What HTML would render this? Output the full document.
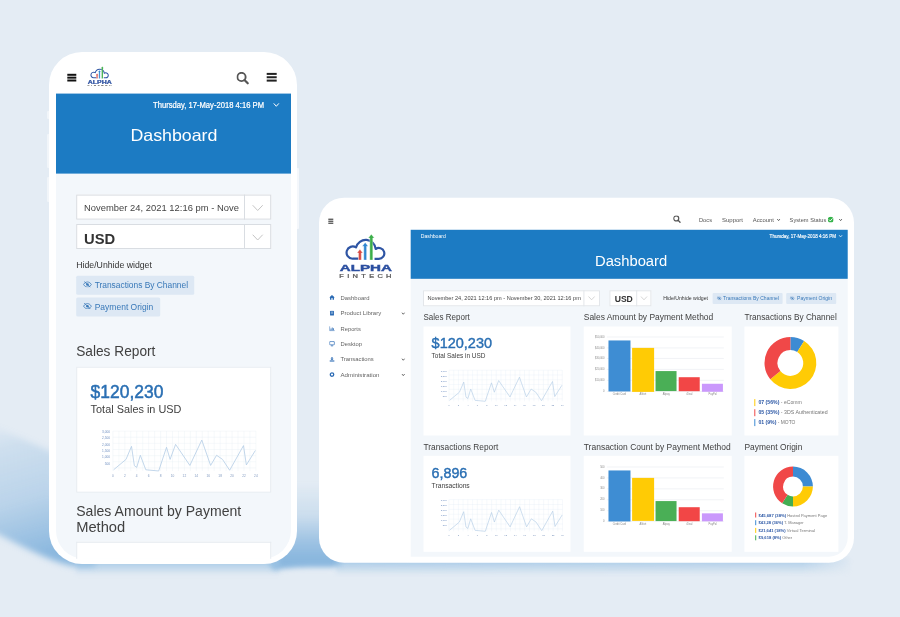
<!DOCTYPE html>
<html><head><meta charset="utf-8"><title>Dashboard</title>
<style>
html,body{margin:0;padding:0;}
body{width:900px;height:617px;overflow:hidden;position:relative;background:#e4ecf4;font-family:"Liberation Sans",sans-serif;}
.r{position:absolute;display:block;left:0;top:0;transform-origin:0 0;}
.t{position:absolute;white-space:pre;line-height:1;left:0;top:0;transform-origin:0 0;}
</style></head><body>
<div id="stage" style="position:absolute;left:0;top:0;width:900px;height:617px;overflow:hidden;will-change:transform;transform:translateZ(0);">
<svg class="r" style="left:0;top:0" width="900" height="617" viewBox="0 0 900 617">
<defs>
<linearGradient id="g1" gradientUnits="userSpaceOnUse" x1="5" y1="428" x2="42" y2="556">
<stop offset="0" stop-color="#8ab7de" stop-opacity="0.08"/>
<stop offset="0.14" stop-color="#8ab7de" stop-opacity="0.24"/>
<stop offset="0.55" stop-color="#8ab7de" stop-opacity="0.46"/>
<stop offset="0.85" stop-color="#8ab7de" stop-opacity="0.82"/>
<stop offset="1" stop-color="#8ab7de" stop-opacity="1"/>
</linearGradient>
<linearGradient id="g2" gradientUnits="userSpaceOnUse" x1="0" y1="482" x2="0" y2="558">
<stop offset="0" stop-color="#8ab7de" stop-opacity="0"/>
<stop offset="0.45" stop-color="#8ab7de" stop-opacity="0.28"/>
<stop offset="0.8" stop-color="#8ab7de" stop-opacity="0.8"/>
<stop offset="1" stop-color="#8ab7de" stop-opacity="1"/>
</linearGradient>
<linearGradient id="g3" x1="0" y1="0" x2="0" y2="1">
<stop offset="0" stop-color="#9cc3e4" stop-opacity="1"/>
<stop offset="1" stop-color="#9cc3e4" stop-opacity="0"/>
</linearGradient>
<linearGradient id="g4" x1="0" y1="0" x2="1" y2="0">
<stop offset="0" stop-color="#fff" stop-opacity="1"/>
<stop offset="0.9" stop-color="#fff" stop-opacity="0.85"/>
<stop offset="1" stop-color="#fff" stop-opacity="0"/>
</linearGradient>
<mask id="m4"><rect x="330" y="550" width="525" height="40" fill="url(#g4)"/></mask>
<filter id="b4" x="-30%" y="-30%" width="160%" height="160%"><feGaussianBlur stdDeviation="3"/></filter>
<filter id="b25" x="-30%" y="-30%" width="160%" height="160%"><feGaussianBlur stdDeviation="2.5"/></filter>
<filter id="b2" x="-30%" y="-30%" width="160%" height="160%"><feGaussianBlur stdDeviation="2"/></filter>
</defs>
<!-- phone cast shadow -->
<path d="M -12 424 L 54 453 L 54 500 L 95 500 L 95 566 L 72 566 C 46 560 20 545 -12 529 Z" fill="url(#g1)" filter="url(#b4)"/>
<!-- tablet cast shadow -->
<path d="M 292 482 L 335 482 L 342 564 L 334 567 C 318 568 300 566 274 570 L 268 563 L 292 540 Z" fill="url(#g2)" filter="url(#b25)"/>
<!-- under shadows -->
<rect x="76" y="559" width="204" height="16" fill="url(#g3)" filter="url(#b2)"/>
<g mask="url(#m4)"><rect x="336" y="558" width="515" height="17" fill="url(#g3)" filter="url(#b2)"/></g>
</svg>
<div class="r" style="width:3.00px;height:8.00px;background:#f1f5f9;transform:translate(47.00px,111.00px);border-radius:1px;"></div>
<div class="r" style="width:3.00px;height:34.00px;background:#f1f5f9;transform:translate(47.00px,134.00px);border-radius:1px;"></div>
<div class="r" style="width:3.00px;height:25.00px;background:#f1f5f9;transform:translate(47.00px,177.00px);border-radius:1px;"></div>
<div class="r" style="width:3.20px;height:61.00px;background:#f4f7fb;transform:translate(296.00px,168.00px);border-radius:1px;"></div>
<div class="r" style="width:248.30px;height:511.90px;background:#fff;transform:translate(49.00px,52.00px);border-radius:33px;"></div>
<div class="r" style="width:235.40px;height:464.60px;background:#f3f7fb;transform:translate(56.00px,93.60px);border-radius:0 0 28px 28px;"></div>
<div class="r" style="width:235.40px;height:79.60px;background:#1c7bc3;transform:translate(56.00px,93.60px);"></div>
<div class="r" style="width:8.50px;height:1.50px;background:#111;transform:translate(67.30px,73.80px);"></div>
<div class="r" style="width:8.50px;height:1.50px;background:#111;transform:translate(67.30px,76.65px);"></div>
<div class="r" style="width:8.50px;height:1.50px;background:#111;transform:translate(67.30px,79.50px);"></div>
<svg class="r" style="transform:translate(85.60px,63.70px);" width="29.90" height="24.84" viewBox="0 0 743 617">
<path d="M 268 351 L 200 351 A 70 70 0 1 1 240 222 A 114.6 114.6 0 0 1 465 240 A 62 62 0 1 1 500 352 L 452 352" fill="none" stroke="#2f55a4" stroke-width="25" stroke-linejoin="round"/>
<g stroke="#fff" stroke-width="4" stroke-linejoin="miter">
<path d="M 285 243 L 318 285 L 301 285 L 301 366 L 269 366 L 269 285 L 252 285 Z" fill="#d94a43"/>
<path d="M 345 165 L 379 209 L 361 209 L 361 366 L 329 366 L 329 209 L 311 209 Z" fill="#2f86d0"/>
<path d="M 415 70 L 450 115 L 432 115 L 432 366 L 398 366 L 398 115 L 380 115 Z" fill="#3cae49"/>
</g>
<text x="55" y="495" font-family="Liberation Sans, sans-serif" font-weight="700" font-size="112" fill="#2b4fa0" stroke="#2b4fa0" stroke-width="5" textLength="595" lengthAdjust="spacingAndGlyphs">ALPHA</text>
<text x="50" y="566" font-family="Liberation Sans, sans-serif" font-size="54" letter-spacing="24" fill="#5a5a5a" stroke="#5a5a5a" stroke-width="2.5" textLength="634" lengthAdjust="spacingAndGlyphs">FINTECH</text>
</svg>
<svg class="r" style="transform:translate(236.50px,72.00px);" width="12.50" height="12.50" viewBox="0 0 12.5 12.5"><circle cx="5.0" cy="5.0" r="4.125" fill="none" stroke="#555" stroke-width="1.9"/><path d="M 7.97 7.97 L 11.25 11.25" stroke="#555" stroke-width="2.1849999999999996" stroke-linecap="round"/></svg>
<div class="r" style="width:10.00px;height:1.60px;background:#222;transform:translate(266.70px,72.90px);"></div>
<div class="r" style="width:10.00px;height:1.60px;background:#222;transform:translate(266.70px,76.25px);"></div>
<div class="r" style="width:10.00px;height:1.60px;background:#222;transform:translate(266.70px,79.60px);"></div>
<div class="t" style="font-size:67.20px;color:#fff;-webkit-text-stroke:1.88px #fff;transform:translate(153.00px,100.89px) scale(0.11358,0.125);">Thursday, 17-May-2018 4:16 PM</div>
<svg class="r" style="transform:translate(273.00px,102.70px);" width="6.60" height="4.60" viewBox="-1 -1 6.6 4.6"><path d="M 0 0 L 2.3 2.6 L 4.6 0" fill="none" stroke="#fff" stroke-width="1" stroke-linecap="round" stroke-linejoin="round"/></svg>
<div class="t" style="font-size:130.40px;color:#fff;transform:translate(130.40px,126.80px) scale(0.13639,0.125);">Dashboard</div>
<div class="r" style="width:194.70px;height:25.10px;background:#fff;transform:translate(76.20px,194.60px);box-sizing:border-box;border:1px solid #d9dde2;"></div>
<div class="r" style="width:1.00px;height:25.10px;background:#d9dde2;transform:translate(244.00px,194.60px);"></div>
<div class="t" style="font-size:77.60px;color:#444;transform:translate(84.00px,202.79px) scale(0.12141,0.125);">November 24, 2021 12:16 pm - Nove</div>
<svg class="r" style="transform:translate(251.95px,204.50px);" width="11.50" height="7.00" viewBox="-1 -1 11.5 7"><path d="M 0 0 L 4.75 5 L 9.5 0" fill="none" stroke="#c4c4c4" stroke-width="1" stroke-linecap="round" stroke-linejoin="round"/></svg>
<div class="r" style="width:194.70px;height:25.20px;background:#fff;transform:translate(76.20px,224.00px);box-sizing:border-box;border:1px solid #d9dde2;"></div>
<div class="r" style="width:1.00px;height:25.20px;background:#d9dde2;transform:translate(244.00px,224.00px);"></div>
<div class="t" style="font-size:120.00px;color:#333;font-weight:700;transform:translate(84.00px,231.00px) scale(0.12314,0.125);">USD</div>
<svg class="r" style="transform:translate(251.95px,234.00px);" width="11.50" height="7.00" viewBox="-1 -1 11.5 7"><path d="M 0 0 L 4.75 5 L 9.5 0" fill="none" stroke="#c4c4c4" stroke-width="1" stroke-linecap="round" stroke-linejoin="round"/></svg>
<div class="t" style="font-size:68.80px;color:#333;transform:translate(76.20px,261.22px) scale(0.12689,0.125);">Hide/Unhide widget</div>
<div class="r" style="width:118.20px;height:18.50px;background:#dde8f4;transform:translate(76.20px,275.70px);border-radius:1.5px;"></div>
<svg class="r" style="transform:translate(83.10px,281.30px);" width="8.70" height="6.40" viewBox="0 0 20 14"><path d="M1 7 C4 2 8 1 10 1 C12 1 16 2 19 7 C16 12 12 13 10 13 C8 13 4 12 1 7 Z" fill="none" stroke="#3878b8" stroke-width="1.8"/><circle cx="10" cy="7" r="3" fill="#3878b8"/><path d="M3 0.5 L17 13.5" stroke="#3878b8" stroke-width="1.8" stroke-linecap="round"/></svg>
<div class="t" style="font-size:73.60px;color:#3878b8;transform:translate(94.70px,280.61px) scale(0.11385,0.125);">Transactions By Channel</div>
<div class="r" style="width:83.80px;height:18.80px;background:#dde8f4;transform:translate(76.20px,297.40px);border-radius:1.5px;"></div>
<svg class="r" style="transform:translate(83.10px,303.00px);" width="8.70" height="6.40" viewBox="0 0 20 14"><path d="M1 7 C4 2 8 1 10 1 C12 1 16 2 19 7 C16 12 12 13 10 13 C8 13 4 12 1 7 Z" fill="none" stroke="#3878b8" stroke-width="1.8"/><circle cx="10" cy="7" r="3" fill="#3878b8"/><path d="M3 0.5 L17 13.5" stroke="#3878b8" stroke-width="1.8" stroke-linecap="round"/></svg>
<div class="t" style="font-size:73.60px;color:#3878b8;transform:translate(94.70px,302.31px) scale(0.11554,0.125);">Payment Origin</div>
<div class="t" style="font-size:116.80px;color:#414141;transform:translate(76.20px,344.24px) scale(0.11731,0.125);">Sales Report</div>
<div class="r" style="width:194.80px;height:125.60px;background:#fff;transform:translate(76.20px,366.70px);box-sizing:border-box;border:0.6px solid #e6ebf1;"></div>
<div class="t" style="font-size:144.00px;color:#2a6fb3;-webkit-text-stroke:4.03px #2a6fb3;transform:translate(90.60px,382.66px) scale(0.12139,0.125);">$120,230</div>
<div class="t" style="font-size:92.00px;color:#414141;transform:translate(90.60px,403.17px) scale(0.11839,0.125);">Total Sales in USD</div>
<svg class="r" style="transform:translate(112.90px,431.10px);overflow:visible;" width="143.00" height="40.90" viewBox="0 0 143.00 40.90"><path d="M 0.00 0 V 39.90" stroke="#e6edf5" stroke-width="0.36"/><path d="M 5.96 0 V 39.90" stroke="#e6edf5" stroke-width="0.36"/><path d="M 11.92 0 V 39.90" stroke="#e6edf5" stroke-width="0.36"/><path d="M 17.88 0 V 39.90" stroke="#e6edf5" stroke-width="0.36"/><path d="M 23.83 0 V 39.90" stroke="#e6edf5" stroke-width="0.36"/><path d="M 29.79 0 V 39.90" stroke="#e6edf5" stroke-width="0.36"/><path d="M 35.75 0 V 39.90" stroke="#e6edf5" stroke-width="0.36"/><path d="M 41.71 0 V 39.90" stroke="#e6edf5" stroke-width="0.36"/><path d="M 47.67 0 V 39.90" stroke="#e6edf5" stroke-width="0.36"/><path d="M 53.62 0 V 39.90" stroke="#e6edf5" stroke-width="0.36"/><path d="M 59.58 0 V 39.90" stroke="#e6edf5" stroke-width="0.36"/><path d="M 65.54 0 V 39.90" stroke="#e6edf5" stroke-width="0.36"/><path d="M 71.50 0 V 39.90" stroke="#e6edf5" stroke-width="0.36"/><path d="M 77.46 0 V 39.90" stroke="#e6edf5" stroke-width="0.36"/><path d="M 83.42 0 V 39.90" stroke="#e6edf5" stroke-width="0.36"/><path d="M 89.38 0 V 39.90" stroke="#e6edf5" stroke-width="0.36"/><path d="M 95.33 0 V 39.90" stroke="#e6edf5" stroke-width="0.36"/><path d="M 101.29 0 V 39.90" stroke="#e6edf5" stroke-width="0.36"/><path d="M 107.25 0 V 39.90" stroke="#e6edf5" stroke-width="0.36"/><path d="M 113.21 0 V 39.90" stroke="#e6edf5" stroke-width="0.36"/><path d="M 119.17 0 V 39.90" stroke="#e6edf5" stroke-width="0.36"/><path d="M 125.12 0 V 39.90" stroke="#e6edf5" stroke-width="0.36"/><path d="M 131.08 0 V 39.90" stroke="#e6edf5" stroke-width="0.36"/><path d="M 137.04 0 V 39.90" stroke="#e6edf5" stroke-width="0.36"/><path d="M 143.00 0 V 39.90" stroke="#e6edf5" stroke-width="0.36"/><path d="M 0 0.00 H 143.00" stroke="#e6edf5" stroke-width="0.36"/><path d="M 0 6.14 H 143.00" stroke="#e6edf5" stroke-width="0.36"/><path d="M 0 12.28 H 143.00" stroke="#e6edf5" stroke-width="0.36"/><path d="M 0 18.42 H 143.00" stroke="#e6edf5" stroke-width="0.36"/><path d="M 0 24.55 H 143.00" stroke="#e6edf5" stroke-width="0.36"/><path d="M 0 30.69 H 143.00" stroke="#e6edf5" stroke-width="0.36"/><path d="M 0 36.83 H 143.00" stroke="#e6edf5" stroke-width="0.36"/><polyline points="0.71,38.69 13.11,28.29 18.59,15.23 21.45,34.58 23.83,36.27 27.41,24.18 32.89,38.69 45.76,39.90 53.62,16.20 57.20,28.29 62.68,13.30 76.98,34.34 88.90,8.95 97.72,34.34 103.67,24.18 109.63,28.29 116.78,39.17 130.61,14.51 133.47,33.85 142.52,19.35" fill="none" stroke="#b3cce6" stroke-width="0.79" stroke-linejoin="round"/></svg>
<div class="t" style="font-size:25.60px;color:#6f8fc0;transform:translate(101.99px,430.49px) scale(0.12500,0.125);">3,000</div>
<div class="t" style="font-size:25.60px;color:#6f8fc0;transform:translate(101.99px,436.83px) scale(0.12500,0.125);">2,500</div>
<div class="t" style="font-size:25.60px;color:#6f8fc0;transform:translate(101.99px,443.16px) scale(0.12500,0.125);">2,000</div>
<div class="t" style="font-size:25.60px;color:#6f8fc0;transform:translate(101.99px,449.49px) scale(0.12500,0.125);">1,500</div>
<div class="t" style="font-size:25.60px;color:#6f8fc0;transform:translate(101.99px,455.83px) scale(0.12500,0.125);">1,000</div>
<div class="t" style="font-size:25.60px;color:#6f8fc0;transform:translate(104.66px,462.16px) scale(0.12500,0.125);">500</div>
<div class="t" style="font-size:25.60px;color:#7f98bf;transform:translate(112.01px,474.34px) scale(0.12500,0.125);">0</div>
<div class="t" style="font-size:25.60px;color:#7f98bf;transform:translate(123.93px,474.34px) scale(0.12500,0.125);">2</div>
<div class="t" style="font-size:25.60px;color:#7f98bf;transform:translate(135.84px,474.34px) scale(0.12500,0.125);">4</div>
<div class="t" style="font-size:25.60px;color:#7f98bf;transform:translate(147.76px,474.34px) scale(0.12500,0.125);">6</div>
<div class="t" style="font-size:25.60px;color:#7f98bf;transform:translate(159.68px,474.34px) scale(0.12500,0.125);">8</div>
<div class="t" style="font-size:25.60px;color:#7f98bf;transform:translate(170.70px,474.34px) scale(0.12500,0.125);">10</div>
<div class="t" style="font-size:25.60px;color:#7f98bf;transform:translate(182.62px,474.34px) scale(0.12500,0.125);">12</div>
<div class="t" style="font-size:25.60px;color:#7f98bf;transform:translate(194.54px,474.34px) scale(0.12500,0.125);">14</div>
<div class="t" style="font-size:25.60px;color:#7f98bf;transform:translate(206.45px,474.34px) scale(0.12500,0.125);">16</div>
<div class="t" style="font-size:25.60px;color:#7f98bf;transform:translate(218.37px,474.34px) scale(0.12500,0.125);">18</div>
<div class="t" style="font-size:25.60px;color:#7f98bf;transform:translate(230.29px,474.34px) scale(0.12500,0.125);">20</div>
<div class="t" style="font-size:25.60px;color:#7f98bf;transform:translate(242.20px,474.34px) scale(0.12500,0.125);">22</div>
<div class="t" style="font-size:25.60px;color:#7f98bf;transform:translate(254.12px,474.34px) scale(0.12500,0.125);">24</div>
<div class="t" style="font-size:116.80px;color:#414141;transform:translate(76.20px,503.44px) scale(0.12045,0.125);">Sales Amount by Payment</div>
<div class="t" style="font-size:116.80px;color:#414141;transform:translate(76.20px,519.44px) scale(0.12579,0.125);">Method</div>
<div class="r" style="width:194.80px;height:17.00px;background:#fff;transform:translate(76.20px,541.80px);box-sizing:border-box;border:0.6px solid #e6ebf1;border-bottom:none;"></div>
<div class="r" style="width:535.00px;height:365.00px;background:#fff;transform:translate(319.00px,197.70px);border-radius:25px;"></div>
<div class="r" style="width:437.30px;height:326.80px;background:#f3f7fb;transform:translate(410.70px,229.80px);border-radius:0 0 19px 0;"></div>
<div class="r" style="width:437.30px;height:48.80px;background:#1c7bc3;transform:translate(410.70px,229.80px);"></div>
<div class="r" style="width:5.40px;height:1.10px;background:#222;transform:translate(328.30px,218.70px);"></div>
<div class="r" style="width:5.40px;height:1.10px;background:#222;transform:translate(328.30px,220.70px);"></div>
<div class="r" style="width:5.40px;height:1.10px;background:#222;transform:translate(328.30px,222.70px);"></div>
<svg class="r" style="transform:translate(335.00px,228.00px);" width="65.00" height="54.00" viewBox="0 0 743 617">
<path d="M 268 351 L 200 351 A 70 70 0 1 1 240 222 A 114.6 114.6 0 0 1 465 240 A 62 62 0 1 1 500 352 L 452 352" fill="none" stroke="#2f55a4" stroke-width="25" stroke-linejoin="round"/>
<g stroke="#fff" stroke-width="4" stroke-linejoin="miter">
<path d="M 285 243 L 318 285 L 301 285 L 301 366 L 269 366 L 269 285 L 252 285 Z" fill="#d94a43"/>
<path d="M 345 165 L 379 209 L 361 209 L 361 366 L 329 366 L 329 209 L 311 209 Z" fill="#2f86d0"/>
<path d="M 415 70 L 450 115 L 432 115 L 432 366 L 398 366 L 398 115 L 380 115 Z" fill="#3cae49"/>
</g>
<text x="55" y="495" font-family="Liberation Sans, sans-serif" font-weight="700" font-size="112" fill="#2b4fa0" stroke="#2b4fa0" stroke-width="5" textLength="595" lengthAdjust="spacingAndGlyphs">ALPHA</text>
<text x="50" y="566" font-family="Liberation Sans, sans-serif" font-size="54" letter-spacing="24" fill="#5a5a5a" stroke="#5a5a5a" stroke-width="2.5" textLength="634" lengthAdjust="spacingAndGlyphs">FINTECH</text>
</svg>
<svg class="r" style="transform:translate(673.20px,215.40px);" width="7.60" height="7.60" viewBox="0 0 7.6 7.6"><circle cx="3.04" cy="3.04" r="2.508" fill="none" stroke="#555" stroke-width="1.2"/><path d="M 4.84576 4.84576 L 6.84 6.84" stroke="#555" stroke-width="1.38" stroke-linecap="round"/></svg>
<div class="t" style="font-size:48.80px;color:#555;transform:translate(699.00px,216.64px) scale(0.11693,0.125);">Docs</div>
<div class="t" style="font-size:48.80px;color:#555;transform:translate(722.00px,216.64px) scale(0.12287,0.125);">Support</div>
<div class="t" style="font-size:48.80px;color:#555;transform:translate(752.70px,216.64px) scale(0.12080,0.125);">Account</div>
<svg class="r" style="transform:translate(776.50px,218.35px);" width="4.20" height="3.30" viewBox="-1 -1 4.2 3.3"><path d="M 0 0 L 1.1 1.3 L 2.2 0" fill="none" stroke="#555" stroke-width="0.9" stroke-linecap="round" stroke-linejoin="round"/></svg>
<div class="t" style="font-size:48.80px;color:#555;transform:translate(789.60px,216.64px) scale(0.11666,0.125);">System Status</div>
<svg class="r" style="transform:translate(827.60px,216.60px);" width="6.20" height="6.20" viewBox="0 0 10 10"><circle cx="5" cy="5" r="4.6" fill="#35b34a"/><path d="M2.6 5.2 L4.4 7 L7.5 3.4" fill="none" stroke="#fff" stroke-width="1.5" stroke-linecap="round" stroke-linejoin="round"/></svg>
<svg class="r" style="transform:translate(838.50px,218.35px);" width="4.20" height="3.30" viewBox="-1 -1 4.2 3.3"><path d="M 0 0 L 1.1 1.3 L 2.2 0" fill="none" stroke="#555" stroke-width="0.9" stroke-linecap="round" stroke-linejoin="round"/></svg>
<div class="t" style="font-size:44.80px;color:#fff;transform:translate(420.80px,233.56px) scale(0.11408,0.125);">Dashboard</div>
<div class="t" style="font-size:40.80px;color:#fff;-webkit-text-stroke:1.14px #fff;transform:translate(769.60px,233.68px) scale(0.11191,0.125);">Thursday, 17-May-2018 4:16 PM</div>
<svg class="r" style="transform:translate(838.30px,234.45px);" width="4.60" height="3.50" viewBox="-1 -1 4.6 3.5"><path d="M 0 0 L 1.3 1.5 L 2.6 0" fill="none" stroke="#fff" stroke-width="0.7" stroke-linecap="round" stroke-linejoin="round"/></svg>
<div class="t" style="font-size:112.00px;color:#fff;transform:translate(595.00px,253.95px) scale(0.13178,0.125);">Dashboard</div>
<div class="r" style="width:176.70px;height:15.60px;background:#fff;transform:translate(423.00px,290.30px);box-sizing:border-box;border:0.7px solid #e3e6ea;"></div>
<div class="r" style="width:0.70px;height:15.60px;background:#e3e6ea;transform:translate(583.40px,290.30px);"></div>
<div class="t" style="font-size:44.80px;color:#444;transform:translate(427.50px,295.66px) scale(0.12513,0.125);">November 24, 2021 12:16 pm - November 30, 2021 12:16 pm</div>
<svg class="r" style="transform:translate(587.80px,295.80px);" width="7.60" height="5.00" viewBox="-1 -1 7.6 5"><path d="M 0 0 L 2.8 3 L 5.6 0" fill="none" stroke="#c4c4c4" stroke-width="0.7" stroke-linecap="round" stroke-linejoin="round"/></svg>
<div class="r" style="width:42.30px;height:15.60px;background:#fff;transform:translate(609.40px,290.30px);box-sizing:border-box;border:0.7px solid #e3e6ea;"></div>
<div class="r" style="width:0.70px;height:15.60px;background:#e3e6ea;transform:translate(636.20px,290.30px);"></div>
<div class="t" style="font-size:68.80px;color:#333;font-weight:700;transform:translate(614.70px,294.92px) scale(0.12460,0.125);">USD</div>
<svg class="r" style="transform:translate(640.20px,295.80px);" width="7.60" height="5.00" viewBox="-1 -1 7.6 5"><path d="M 0 0 L 2.8 3 L 5.6 0" fill="none" stroke="#c4c4c4" stroke-width="0.7" stroke-linecap="round" stroke-linejoin="round"/></svg>
<div class="t" style="font-size:40.80px;color:#333;transform:translate(663.20px,295.88px) scale(0.12663,0.125);">Hide/Unhide widget</div>
<div class="r" style="width:69.90px;height:10.80px;background:#dde8f4;transform:translate(712.60px,292.90px);border-radius:1px;"></div>
<svg class="r" style="transform:translate(716.80px,296.40px);" width="4.80" height="3.60" viewBox="0 0 20 14"><path d="M1 7 C4 2 8 1 10 1 C12 1 16 2 19 7 C16 12 12 13 10 13 C8 13 4 12 1 7 Z" fill="none" stroke="#3878b8" stroke-width="1.8"/><circle cx="10" cy="7" r="3" fill="#3878b8"/><path d="M3 0.5 L17 13.5" stroke="#3878b8" stroke-width="1.8" stroke-linecap="round"/></svg>
<div class="t" style="font-size:42.40px;color:#3878b8;transform:translate(723.10px,295.71px) scale(0.11819,0.125);">Transactions By Channel</div>
<div class="r" style="width:49.80px;height:10.80px;background:#dde8f4;transform:translate(786.20px,292.90px);border-radius:1px;"></div>
<svg class="r" style="transform:translate(789.80px,296.40px);" width="4.80" height="3.60" viewBox="0 0 20 14"><path d="M1 7 C4 2 8 1 10 1 C12 1 16 2 19 7 C16 12 12 13 10 13 C8 13 4 12 1 7 Z" fill="none" stroke="#3878b8" stroke-width="1.8"/><circle cx="10" cy="7" r="3" fill="#3878b8"/><path d="M3 0.5 L17 13.5" stroke="#3878b8" stroke-width="1.8" stroke-linecap="round"/></svg>
<div class="t" style="font-size:42.40px;color:#3878b8;transform:translate(797.00px,295.71px) scale(0.11979,0.125);">Payment Origin</div>
<div class="t" style="font-size:49.60px;color:#646464;transform:translate(340.50px,294.45px) scale(0.11952,0.125);">Dashboard</div>
<svg class="r" style="transform:translate(329.20px,294.60px);" width="5.60" height="5.60" viewBox="0 0 10 10"><path d="M5 0.8 L10 5 L8.6 5 L8.6 9 L6 9 L6 6.2 L4 6.2 L4 9 L1.4 9 L1.4 5 L0 5 Z" fill="#2d6cb5"/></svg>
<div class="t" style="font-size:49.60px;color:#646464;transform:translate(340.50px,310.25px) scale(0.12102,0.125);">Product Library</div>
<svg class="r" style="transform:translate(329.20px,310.40px);" width="5.60" height="5.60" viewBox="0 0 10 10"><rect x="1.5" y="0.8" width="7" height="8.4" rx="1" fill="#2d6cb5"/><path d="M3 3 H7 M3 5 H7" stroke="#fff" stroke-width="0.8"/></svg>
<svg class="r" style="transform:translate(401.20px,311.95px);" width="4.20" height="3.30" viewBox="-1 -1 4.2 3.3"><path d="M 0 0 L 1.1 1.3 L 2.2 0" fill="none" stroke="#555" stroke-width="0.9" stroke-linecap="round" stroke-linejoin="round"/></svg>
<div class="t" style="font-size:49.60px;color:#646464;transform:translate(340.50px,325.65px) scale(0.11689,0.125);">Reports</div>
<svg class="r" style="transform:translate(329.20px,325.80px);" width="5.60" height="5.60" viewBox="0 0 10 10"><path d="M0.8 1 V8.6 H9.6" fill="none" stroke="#2d6cb5" stroke-width="1.1"/><path d="M2.5 7.6 V5 H3.9 V7.6 Z M4.7 7.6 V3 H6.1 V7.6 Z M6.9 7.6 V4.4 H8.3 V7.6 Z" fill="#2d6cb5"/></svg>
<div class="t" style="font-size:49.60px;color:#646464;transform:translate(340.50px,340.75px) scale(0.11817,0.125);">Desktop</div>
<svg class="r" style="transform:translate(329.20px,340.90px);" width="5.60" height="5.60" viewBox="0 0 10 10"><rect x="0.8" y="1.2" width="8.4" height="5.8" rx="0.6" fill="none" stroke="#2d6cb5" stroke-width="1.2"/><path d="M3 9 H7 M5 7 V9" stroke="#2d6cb5" stroke-width="1.1"/></svg>
<div class="t" style="font-size:49.60px;color:#646464;transform:translate(340.50px,356.25px) scale(0.11805,0.125);">Transactions</div>
<svg class="r" style="transform:translate(329.20px,356.40px);" width="5.60" height="5.60" viewBox="0 0 10 10"><path d="M4 1 H6 V4 H8 L5 7 L2 4 H4 Z" fill="#2d6cb5"/><rect x="0.8" y="7.2" width="8.4" height="2" fill="#2d6cb5"/></svg>
<svg class="r" style="transform:translate(401.20px,357.95px);" width="4.20" height="3.30" viewBox="-1 -1 4.2 3.3"><path d="M 0 0 L 1.1 1.3 L 2.2 0" fill="none" stroke="#555" stroke-width="0.9" stroke-linecap="round" stroke-linejoin="round"/></svg>
<div class="t" style="font-size:49.60px;color:#646464;transform:translate(340.50px,371.65px) scale(0.12411,0.125);">Administration</div>
<svg class="r" style="transform:translate(329.20px,371.80px);" width="5.60" height="5.60" viewBox="0 0 10 10"><circle cx="5" cy="5" r="3.1" fill="none" stroke="#2d6cb5" stroke-width="2.4"/></svg>
<svg class="r" style="transform:translate(401.20px,373.35px);" width="4.20" height="3.30" viewBox="-1 -1 4.2 3.3"><path d="M 0 0 L 1.1 1.3 L 2.2 0" fill="none" stroke="#555" stroke-width="0.9" stroke-linecap="round" stroke-linejoin="round"/></svg>
<div class="t" style="font-size:67.20px;color:#414141;transform:translate(423.50px,312.49px) scale(0.11919,0.125);">Sales Report</div>
<div class="t" style="font-size:67.20px;color:#414141;transform:translate(583.75px,312.49px) scale(0.12562,0.125);">Sales Amount by Payment Method</div>
<div class="t" style="font-size:67.20px;color:#414141;transform:translate(744.40px,312.49px) scale(0.12349,0.125);">Transactions By Channel</div>
<div class="t" style="font-size:67.20px;color:#414141;transform:translate(423.50px,442.39px) scale(0.12414,0.125);">Transactions Report</div>
<div class="t" style="font-size:67.20px;color:#414141;transform:translate(583.75px,442.39px) scale(0.12642,0.125);">Transaction Count by Payment Method</div>
<div class="t" style="font-size:67.20px;color:#414141;transform:translate(744.40px,442.39px) scale(0.12525,0.125);">Payment Origin</div>
<div class="r" style="width:147.40px;height:108.50px;background:#fff;transform:translate(423.50px,326.50px);"></div>
<div class="r" style="width:148.30px;height:108.50px;background:#fff;transform:translate(583.75px,326.50px);"></div>
<div class="r" style="width:94.40px;height:108.50px;background:#fff;transform:translate(744.40px,326.50px);"></div>
<div class="r" style="width:147.40px;height:96.30px;background:#fff;transform:translate(423.50px,455.80px);"></div>
<div class="r" style="width:148.30px;height:96.30px;background:#fff;transform:translate(583.75px,455.80px);"></div>
<div class="r" style="width:94.40px;height:96.30px;background:#fff;transform:translate(744.40px,455.80px);"></div>
<div class="t" style="font-size:116.80px;color:#2a6fb3;-webkit-text-stroke:3.27px #2a6fb3;transform:translate(431.60px,335.64px) scale(0.12400,0.125);">$120,230</div>
<div class="t" style="font-size:56.00px;color:#414141;transform:translate(431.60px,352.37px) scale(0.11545,0.125);">Total Sales in USD</div>
<svg class="r" style="transform:translate(449.00px,370.20px);overflow:visible;" width="113.30" height="32.10" viewBox="0 0 113.30 32.10"><path d="M 0.00 0 V 31.10" stroke="#e6edf5" stroke-width="0.35"/><path d="M 4.72 0 V 31.10" stroke="#e6edf5" stroke-width="0.35"/><path d="M 9.44 0 V 31.10" stroke="#e6edf5" stroke-width="0.35"/><path d="M 14.16 0 V 31.10" stroke="#e6edf5" stroke-width="0.35"/><path d="M 18.88 0 V 31.10" stroke="#e6edf5" stroke-width="0.35"/><path d="M 23.60 0 V 31.10" stroke="#e6edf5" stroke-width="0.35"/><path d="M 28.32 0 V 31.10" stroke="#e6edf5" stroke-width="0.35"/><path d="M 33.05 0 V 31.10" stroke="#e6edf5" stroke-width="0.35"/><path d="M 37.77 0 V 31.10" stroke="#e6edf5" stroke-width="0.35"/><path d="M 42.49 0 V 31.10" stroke="#e6edf5" stroke-width="0.35"/><path d="M 47.21 0 V 31.10" stroke="#e6edf5" stroke-width="0.35"/><path d="M 51.93 0 V 31.10" stroke="#e6edf5" stroke-width="0.35"/><path d="M 56.65 0 V 31.10" stroke="#e6edf5" stroke-width="0.35"/><path d="M 61.37 0 V 31.10" stroke="#e6edf5" stroke-width="0.35"/><path d="M 66.09 0 V 31.10" stroke="#e6edf5" stroke-width="0.35"/><path d="M 70.81 0 V 31.10" stroke="#e6edf5" stroke-width="0.35"/><path d="M 75.53 0 V 31.10" stroke="#e6edf5" stroke-width="0.35"/><path d="M 80.25 0 V 31.10" stroke="#e6edf5" stroke-width="0.35"/><path d="M 84.97 0 V 31.10" stroke="#e6edf5" stroke-width="0.35"/><path d="M 89.70 0 V 31.10" stroke="#e6edf5" stroke-width="0.35"/><path d="M 94.42 0 V 31.10" stroke="#e6edf5" stroke-width="0.35"/><path d="M 99.14 0 V 31.10" stroke="#e6edf5" stroke-width="0.35"/><path d="M 103.86 0 V 31.10" stroke="#e6edf5" stroke-width="0.35"/><path d="M 108.58 0 V 31.10" stroke="#e6edf5" stroke-width="0.35"/><path d="M 113.30 0 V 31.10" stroke="#e6edf5" stroke-width="0.35"/><path d="M 0 0.00 H 113.30" stroke="#e6edf5" stroke-width="0.35"/><path d="M 0 4.78 H 113.30" stroke="#e6edf5" stroke-width="0.35"/><path d="M 0 9.57 H 113.30" stroke="#e6edf5" stroke-width="0.35"/><path d="M 0 14.35 H 113.30" stroke="#e6edf5" stroke-width="0.35"/><path d="M 0 19.14 H 113.30" stroke="#e6edf5" stroke-width="0.35"/><path d="M 0 23.92 H 113.30" stroke="#e6edf5" stroke-width="0.35"/><path d="M 0 28.71 H 113.30" stroke="#e6edf5" stroke-width="0.35"/><polyline points="0.57,30.16 10.39,22.05 14.73,11.87 16.99,26.95 18.88,28.27 21.72,18.85 26.06,30.16 36.26,31.10 42.49,12.63 45.32,22.05 49.66,10.37 60.99,26.76 70.43,6.97 77.42,26.76 82.14,18.85 86.86,22.05 92.53,30.53 103.48,11.31 105.75,26.39 112.92,15.08" fill="none" stroke="#b3cce6" stroke-width="0.63" stroke-linejoin="round"/></svg>
<div class="t" style="font-size:20.00px;color:#6f8fc0;transform:translate(440.64px,369.72px) scale(0.12500,0.125);">3,000</div>
<div class="t" style="font-size:20.00px;color:#6f8fc0;transform:translate(440.64px,374.66px) scale(0.12500,0.125);">2,500</div>
<div class="t" style="font-size:20.00px;color:#6f8fc0;transform:translate(440.64px,379.60px) scale(0.12500,0.125);">2,000</div>
<div class="t" style="font-size:20.00px;color:#6f8fc0;transform:translate(440.64px,384.53px) scale(0.12500,0.125);">1,500</div>
<div class="t" style="font-size:20.00px;color:#6f8fc0;transform:translate(440.64px,389.47px) scale(0.12500,0.125);">1,000</div>
<div class="t" style="font-size:20.00px;color:#6f8fc0;transform:translate(442.73px,394.41px) scale(0.12500,0.125);">500</div>
<div class="t" style="font-size:20.00px;color:#7f98bf;transform:translate(448.30px,403.48px) scale(0.12500,0.125);">0</div>
<div class="t" style="font-size:20.00px;color:#7f98bf;transform:translate(457.75px,403.48px) scale(0.12500,0.125);">2</div>
<div class="t" style="font-size:20.00px;color:#7f98bf;transform:translate(467.19px,403.48px) scale(0.12500,0.125);">4</div>
<div class="t" style="font-size:20.00px;color:#7f98bf;transform:translate(476.63px,403.48px) scale(0.12500,0.125);">6</div>
<div class="t" style="font-size:20.00px;color:#7f98bf;transform:translate(486.07px,403.48px) scale(0.12500,0.125);">8</div>
<div class="t" style="font-size:20.00px;color:#7f98bf;transform:translate(494.82px,403.48px) scale(0.12500,0.125);">10</div>
<div class="t" style="font-size:20.00px;color:#7f98bf;transform:translate(504.26px,403.48px) scale(0.12500,0.125);">12</div>
<div class="t" style="font-size:20.00px;color:#7f98bf;transform:translate(513.70px,403.48px) scale(0.12500,0.125);">14</div>
<div class="t" style="font-size:20.00px;color:#7f98bf;transform:translate(523.14px,403.48px) scale(0.12500,0.125);">16</div>
<div class="t" style="font-size:20.00px;color:#7f98bf;transform:translate(532.58px,403.48px) scale(0.12500,0.125);">18</div>
<div class="t" style="font-size:20.00px;color:#7f98bf;transform:translate(542.03px,403.48px) scale(0.12500,0.125);">20</div>
<div class="t" style="font-size:20.00px;color:#7f98bf;transform:translate(551.47px,403.48px) scale(0.12500,0.125);">22</div>
<div class="t" style="font-size:20.00px;color:#7f98bf;transform:translate(560.91px,403.48px) scale(0.12500,0.125);">24</div>
<div class="t" style="font-size:116.80px;color:#2a6fb3;-webkit-text-stroke:3.27px #2a6fb3;transform:translate(431.60px,465.44px) scale(0.12215,0.125);">6,896</div>
<div class="t" style="font-size:56.00px;color:#414141;transform:translate(431.60px,482.07px) scale(0.11963,0.125);">Transactions</div>
<svg class="r" style="transform:translate(448.90px,499.60px);overflow:visible;" width="113.70" height="32.70" viewBox="0 0 113.70 32.70"><path d="M 0.00 0 V 31.70" stroke="#e6edf5" stroke-width="0.35"/><path d="M 4.74 0 V 31.70" stroke="#e6edf5" stroke-width="0.35"/><path d="M 9.48 0 V 31.70" stroke="#e6edf5" stroke-width="0.35"/><path d="M 14.21 0 V 31.70" stroke="#e6edf5" stroke-width="0.35"/><path d="M 18.95 0 V 31.70" stroke="#e6edf5" stroke-width="0.35"/><path d="M 23.69 0 V 31.70" stroke="#e6edf5" stroke-width="0.35"/><path d="M 28.43 0 V 31.70" stroke="#e6edf5" stroke-width="0.35"/><path d="M 33.16 0 V 31.70" stroke="#e6edf5" stroke-width="0.35"/><path d="M 37.90 0 V 31.70" stroke="#e6edf5" stroke-width="0.35"/><path d="M 42.64 0 V 31.70" stroke="#e6edf5" stroke-width="0.35"/><path d="M 47.38 0 V 31.70" stroke="#e6edf5" stroke-width="0.35"/><path d="M 52.11 0 V 31.70" stroke="#e6edf5" stroke-width="0.35"/><path d="M 56.85 0 V 31.70" stroke="#e6edf5" stroke-width="0.35"/><path d="M 61.59 0 V 31.70" stroke="#e6edf5" stroke-width="0.35"/><path d="M 66.33 0 V 31.70" stroke="#e6edf5" stroke-width="0.35"/><path d="M 71.06 0 V 31.70" stroke="#e6edf5" stroke-width="0.35"/><path d="M 75.80 0 V 31.70" stroke="#e6edf5" stroke-width="0.35"/><path d="M 80.54 0 V 31.70" stroke="#e6edf5" stroke-width="0.35"/><path d="M 85.28 0 V 31.70" stroke="#e6edf5" stroke-width="0.35"/><path d="M 90.01 0 V 31.70" stroke="#e6edf5" stroke-width="0.35"/><path d="M 94.75 0 V 31.70" stroke="#e6edf5" stroke-width="0.35"/><path d="M 99.49 0 V 31.70" stroke="#e6edf5" stroke-width="0.35"/><path d="M 104.23 0 V 31.70" stroke="#e6edf5" stroke-width="0.35"/><path d="M 108.96 0 V 31.70" stroke="#e6edf5" stroke-width="0.35"/><path d="M 113.70 0 V 31.70" stroke="#e6edf5" stroke-width="0.35"/><path d="M 0 0.00 H 113.70" stroke="#e6edf5" stroke-width="0.35"/><path d="M 0 4.88 H 113.70" stroke="#e6edf5" stroke-width="0.35"/><path d="M 0 9.75 H 113.70" stroke="#e6edf5" stroke-width="0.35"/><path d="M 0 14.63 H 113.70" stroke="#e6edf5" stroke-width="0.35"/><path d="M 0 19.51 H 113.70" stroke="#e6edf5" stroke-width="0.35"/><path d="M 0 24.38 H 113.70" stroke="#e6edf5" stroke-width="0.35"/><path d="M 0 29.26 H 113.70" stroke="#e6edf5" stroke-width="0.35"/><polyline points="0.57,30.74 10.42,22.48 14.78,12.10 17.06,27.47 18.95,28.82 21.79,19.21 26.15,30.74 36.38,31.70 42.64,12.87 45.48,22.48 49.84,10.57 61.21,27.28 70.68,7.11 77.70,27.28 82.43,19.21 87.17,22.48 92.86,31.12 103.85,11.53 106.12,26.90 113.32,15.37" fill="none" stroke="#b3cce6" stroke-width="0.63" stroke-linejoin="round"/></svg>
<div class="t" style="font-size:20.00px;color:#6f8fc0;transform:translate(440.64px,499.14px) scale(0.12500,0.125);">3,000</div>
<div class="t" style="font-size:20.00px;color:#6f8fc0;transform:translate(440.64px,504.17px) scale(0.12500,0.125);">2,500</div>
<div class="t" style="font-size:20.00px;color:#6f8fc0;transform:translate(440.64px,509.20px) scale(0.12500,0.125);">2,000</div>
<div class="t" style="font-size:20.00px;color:#6f8fc0;transform:translate(440.64px,514.23px) scale(0.12500,0.125);">1,500</div>
<div class="t" style="font-size:20.00px;color:#6f8fc0;transform:translate(440.64px,519.27px) scale(0.12500,0.125);">1,000</div>
<div class="t" style="font-size:20.00px;color:#6f8fc0;transform:translate(442.73px,524.30px) scale(0.12500,0.125);">500</div>
<div class="t" style="font-size:20.00px;color:#7f98bf;transform:translate(448.20px,534.18px) scale(0.12500,0.125);">0</div>
<div class="t" style="font-size:20.00px;color:#7f98bf;transform:translate(457.68px,534.18px) scale(0.12500,0.125);">2</div>
<div class="t" style="font-size:20.00px;color:#7f98bf;transform:translate(467.15px,534.18px) scale(0.12500,0.125);">4</div>
<div class="t" style="font-size:20.00px;color:#7f98bf;transform:translate(476.63px,534.18px) scale(0.12500,0.125);">6</div>
<div class="t" style="font-size:20.00px;color:#7f98bf;transform:translate(486.10px,534.18px) scale(0.12500,0.125);">8</div>
<div class="t" style="font-size:20.00px;color:#7f98bf;transform:translate(494.88px,534.18px) scale(0.12500,0.125);">10</div>
<div class="t" style="font-size:20.00px;color:#7f98bf;transform:translate(504.36px,534.18px) scale(0.12500,0.125);">12</div>
<div class="t" style="font-size:20.00px;color:#7f98bf;transform:translate(513.83px,534.18px) scale(0.12500,0.125);">14</div>
<div class="t" style="font-size:20.00px;color:#7f98bf;transform:translate(523.31px,534.18px) scale(0.12500,0.125);">16</div>
<div class="t" style="font-size:20.00px;color:#7f98bf;transform:translate(532.78px,534.18px) scale(0.12500,0.125);">18</div>
<div class="t" style="font-size:20.00px;color:#7f98bf;transform:translate(542.26px,534.18px) scale(0.12500,0.125);">20</div>
<div class="t" style="font-size:20.00px;color:#7f98bf;transform:translate(551.73px,534.18px) scale(0.12500,0.125);">22</div>
<div class="t" style="font-size:20.00px;color:#7f98bf;transform:translate(561.21px,534.18px) scale(0.12500,0.125);">24</div>
<div class="r" style="width:117.41px;height:0.50px;background:#f1f3f6;transform:translate(606.82px,336.48px);"></div>
<div class="t" style="font-size:20.80px;color:#888;transform:translate(595.10px,335.46px) scale(0.12500,0.125);">$50,000</div>
<div class="r" style="width:117.41px;height:0.50px;background:#f1f3f6;transform:translate(606.82px,347.42px);"></div>
<div class="t" style="font-size:20.80px;color:#888;transform:translate(595.10px,346.40px) scale(0.12500,0.125);">$40,000</div>
<div class="r" style="width:117.41px;height:0.50px;background:#f1f3f6;transform:translate(606.82px,357.92px);"></div>
<div class="t" style="font-size:20.80px;color:#888;transform:translate(595.10px,356.91px) scale(0.12500,0.125);">$30,000</div>
<div class="r" style="width:117.41px;height:0.50px;background:#f1f3f6;transform:translate(606.82px,368.86px);"></div>
<div class="t" style="font-size:20.80px;color:#888;transform:translate(595.10px,367.85px) scale(0.12500,0.125);">$20,000</div>
<div class="r" style="width:117.41px;height:0.50px;background:#f1f3f6;transform:translate(606.82px,379.80px);"></div>
<div class="t" style="font-size:20.80px;color:#888;transform:translate(595.10px,378.79px) scale(0.12500,0.125);">$10,000</div>
<div class="r" style="width:117.41px;height:0.50px;background:#f1f3f6;transform:translate(606.82px,390.96px);"></div>
<div class="t" style="font-size:20.80px;color:#888;transform:translate(603.05px,389.95px) scale(0.12500,0.125);">0</div>
<div class="r" style="width:21.66px;height:50.98px;background:#3e8dd3;transform:translate(608.48px,340.45px);"></div>
<div class="t" style="font-size:20.80px;color:#888;transform:translate(612.66px,392.79px) scale(0.12500,0.125);">Credit Card</div>
<div class="r" style="width:21.66px;height:43.54px;background:#ffcb05;transform:translate(632.11px,347.89px);"></div>
<div class="t" style="font-size:20.80px;color:#888;transform:translate(639.62px,392.79px) scale(0.12500,0.125);">Alifort</div>
<div class="r" style="width:21.44px;height:20.35px;background:#4aaf56;transform:translate(655.53px,371.08px);"></div>
<div class="t" style="font-size:20.80px;color:#888;transform:translate(662.71px,392.79px) scale(0.12500,0.125);">Alipay</div>
<div class="r" style="width:21.44px;height:14.22px;background:#f24646;transform:translate(678.72px,377.21px);"></div>
<div class="t" style="font-size:20.80px;color:#888;transform:translate(686.48px,392.79px) scale(0.12500,0.125);">iDeal</div>
<div class="r" style="width:21.44px;height:7.66px;background:#ca98fc;transform:translate(701.91px,383.77px);"></div>
<div class="t" style="font-size:20.80px;color:#888;transform:translate(708.52px,392.79px) scale(0.12500,0.125);">PayPal</div>
<div class="r" style="width:117.41px;height:0.50px;background:#f1f3f6;transform:translate(606.82px,466.48px);"></div>
<div class="t" style="font-size:20.80px;color:#888;transform:translate(600.16px,465.46px) scale(0.12500,0.125);">500</div>
<div class="r" style="width:117.41px;height:0.50px;background:#f1f3f6;transform:translate(606.82px,477.42px);"></div>
<div class="t" style="font-size:20.80px;color:#888;transform:translate(600.16px,476.40px) scale(0.12500,0.125);">400</div>
<div class="r" style="width:117.41px;height:0.50px;background:#f1f3f6;transform:translate(606.82px,488.36px);"></div>
<div class="t" style="font-size:20.80px;color:#888;transform:translate(600.16px,487.35px) scale(0.12500,0.125);">300</div>
<div class="r" style="width:117.41px;height:0.50px;background:#f1f3f6;transform:translate(606.82px,499.30px);"></div>
<div class="t" style="font-size:20.80px;color:#888;transform:translate(600.16px,498.29px) scale(0.12500,0.125);">200</div>
<div class="r" style="width:117.41px;height:0.50px;background:#f1f3f6;transform:translate(606.82px,510.24px);"></div>
<div class="t" style="font-size:20.80px;color:#888;transform:translate(600.16px,509.23px) scale(0.12500,0.125);">100</div>
<div class="r" style="width:117.41px;height:0.50px;background:#f1f3f6;transform:translate(606.82px,520.75px);"></div>
<div class="t" style="font-size:20.80px;color:#888;transform:translate(603.05px,519.73px) scale(0.12500,0.125);">0</div>
<div class="r" style="width:21.66px;height:50.66px;background:#3e8dd3;transform:translate(608.48px,470.45px);"></div>
<div class="t" style="font-size:20.80px;color:#888;transform:translate(612.66px,522.79px) scale(0.12500,0.125);">Credit Card</div>
<div class="r" style="width:21.66px;height:43.22px;background:#ffcb05;transform:translate(632.11px,477.89px);"></div>
<div class="t" style="font-size:20.80px;color:#888;transform:translate(639.62px,522.79px) scale(0.12500,0.125);">Alifort</div>
<div class="r" style="width:21.44px;height:20.02px;background:#4aaf56;transform:translate(655.53px,501.08px);"></div>
<div class="t" style="font-size:20.80px;color:#888;transform:translate(662.71px,522.79px) scale(0.12500,0.125);">Alipay</div>
<div class="r" style="width:21.44px;height:13.89px;background:#f24646;transform:translate(678.72px,507.21px);"></div>
<div class="t" style="font-size:20.80px;color:#888;transform:translate(686.48px,522.79px) scale(0.12500,0.125);">iDeal</div>
<div class="r" style="width:21.44px;height:7.77px;background:#ca98fc;transform:translate(701.91px,513.34px);"></div>
<div class="t" style="font-size:20.80px;color:#888;transform:translate(708.52px,522.79px) scale(0.12500,0.125);">PayPal</div>
<svg class="r" style="transform:translate(0.00px,0.00px);" width="900.00" height="617.00" viewBox="0 0 900 617"><path d="M 790.40 337.10 A 25.9 25.9 0 0 1 804.12 341.04 L 797.24 352.06 A 12.9 12.9 0 0 0 790.40 350.10 Z" fill="#3d8bd3"/><path d="M 804.12 341.04 A 25.9 25.9 0 1 1 770.27 379.30 L 780.37 371.12 A 12.9 12.9 0 1 0 797.24 352.06 Z" fill="#ffcb05"/><path d="M 770.27 379.30 A 25.9 25.9 0 0 1 790.40 337.10 L 790.40 350.10 A 12.9 12.9 0 0 0 780.37 371.12 Z" fill="#f04848"/></svg>
<div class="r" style="width:1.40px;height:6.60px;background:#ffcb05;transform:translate(754.30px,399.10px);"></div>
<div class="t" style="font-size:41.60px;color:#2b57a5;font-weight:700;transform:translate(758.40px,399.90px) scale(0.12442,0.125);">07 (56%)</div>
<div class="t" style="font-size:41.60px;color:#777;transform:translate(779.40px,399.90px) scale(0.12269,0.125);"> - eComm</div>
<div class="r" style="width:1.40px;height:6.60px;background:#f04848;transform:translate(754.30px,409.20px);"></div>
<div class="t" style="font-size:41.60px;color:#2b57a5;font-weight:700;transform:translate(758.40px,410.00px) scale(0.12442,0.125);">05 (35%)</div>
<div class="t" style="font-size:41.60px;color:#777;transform:translate(779.40px,410.00px) scale(0.12633,0.125);"> - 3DS Authenticated</div>
<div class="r" style="width:1.40px;height:6.60px;background:#3d8bd3;transform:translate(754.30px,419.10px);"></div>
<div class="t" style="font-size:41.60px;color:#2b57a5;font-weight:700;transform:translate(758.40px,419.90px) scale(0.12358,0.125);">01 (9%)</div>
<div class="t" style="font-size:41.60px;color:#777;transform:translate(776.40px,419.90px) scale(0.11802,0.125);"> - MOTO</div>
<svg class="r" style="transform:translate(0.00px,0.00px);" width="900.00" height="617.00" viewBox="0 0 900 617"><path d="M 793.00 466.60 A 19.9 19.9 0 0 1 812.90 486.50 L 802.90 486.50 A 9.9 9.9 0 0 0 793.00 476.60 Z" fill="#3d8bd3"/><path d="M 812.90 486.50 A 19.9 19.9 0 0 1 793.00 506.40 L 793.00 496.40 A 9.9 9.9 0 0 0 802.90 486.50 Z" fill="#ffcb05"/><path d="M 793.00 506.40 A 19.9 19.9 0 0 1 782.16 503.19 L 787.61 494.80 A 9.9 9.9 0 0 0 793.00 496.40 Z" fill="#43ad52"/><path d="M 782.16 503.19 A 19.9 19.9 0 0 1 793.00 466.60 L 793.00 476.60 A 9.9 9.9 0 0 0 787.61 494.80 Z" fill="#f04848"/></svg>
<div class="r" style="width:1.20px;height:5.20px;background:#f04848;transform:translate(755.20px,512.50px);"></div>
<div class="t" style="font-size:32.80px;color:#2b57a5;font-weight:700;transform:translate(758.60px,513.13px) scale(0.12782,0.125);">$45,687 (38%)</div>
<div class="t" style="font-size:32.80px;color:#777;transform:translate(786.10px,513.13px) scale(0.12156,0.125);"> Hosted Payment Page</div>
<div class="r" style="width:1.20px;height:5.20px;background:#3d8bd3;transform:translate(755.20px,520.20px);"></div>
<div class="t" style="font-size:32.80px;color:#2b57a5;font-weight:700;transform:translate(758.60px,520.83px) scale(0.12442,0.125);">$43,28 (36%)</div>
<div class="t" style="font-size:32.80px;color:#777;transform:translate(783.10px,520.83px) scale(0.11878,0.125);"> T. Manager</div>
<div class="r" style="width:1.20px;height:5.20px;background:#ffcb05;transform:translate(755.20px,527.90px);"></div>
<div class="t" style="font-size:32.80px;color:#2b57a5;font-weight:700;transform:translate(758.60px,528.53px) scale(0.12549,0.125);">$21,641 (18%)</div>
<div class="t" style="font-size:32.80px;color:#777;transform:translate(785.60px,528.53px) scale(0.12610,0.125);"> Virtual Terminal</div>
<div class="r" style="width:1.20px;height:5.20px;background:#43ad52;transform:translate(755.20px,535.30px);"></div>
<div class="t" style="font-size:32.80px;color:#2b57a5;font-weight:700;transform:translate(758.60px,535.93px) scale(0.12593,0.125);">$9,618 (8%)</div>
<div class="t" style="font-size:32.80px;color:#777;transform:translate(781.10px,535.93px) scale(0.12070,0.125);"> Other</div>
</div>
</body></html>
